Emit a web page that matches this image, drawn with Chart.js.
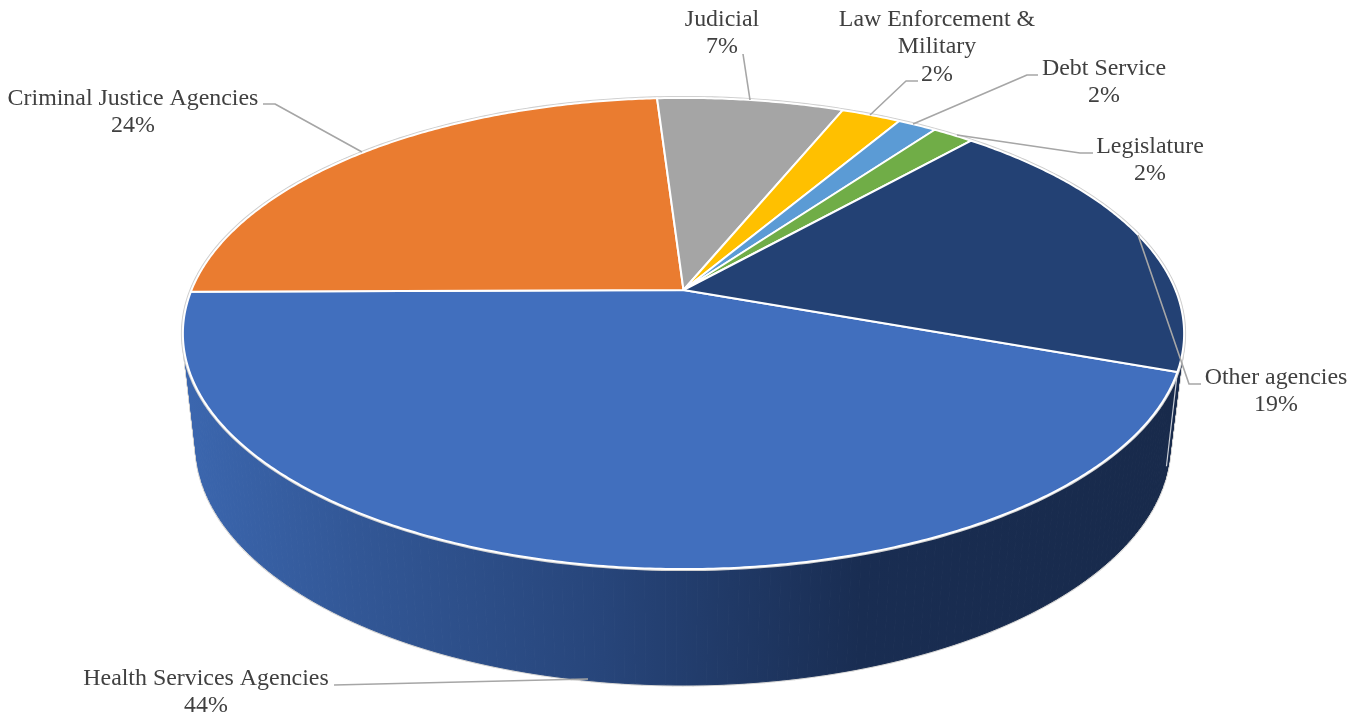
<!DOCTYPE html>
<html>
<head>
<meta charset="utf-8">
<style>html,body{margin:0;padding:0;background:#fff}canvas{display:block}</style>
<script src="https://cdn.jsdelivr.net/npm/chart.js@4"></script>
</head>
<body>
<canvas id="c" width="1364" height="717"></canvas>
<script>
const categories = ['Health Services Agencies','Criminal Justice Agencies','Judicial','Law Enforcement &\nMilitary','Debt Service','Legislature','Other agencies'];
const values = [44.4,24.1,7.2,2.3,1.5,1.6,18.9];
const sliceColors = ['#416FBE','#EA7C30','#A5A5A5','#FFC000','#5B9BD5','#70AD47','#234174'];
const startRotation = 109.75;

// layout of the labels and their leader lines (pixels)
const labelCenters = [[206,678.5],[133,98.5],[722,19.5],[937,19.5],[1104,68.5],[1150,146.5],[1276,377.5]];
const leaderLines = [
  [[334,685],[588,679]],
  [[263,104],[275,104],[362,152]],
  [[743,54],[750,100]],
  [[918,81],[906,81],[870,115]],
  [[1038,75],[1027,75],[913,124]],
  [[1093,153],[1080,153],[957,135]],
  [[1201,384],[1189,384],[1138,235]]
];
const LINE_H = 27.7;
const K = -0.1847;
const TOP = {cx:683.5, cy:290, a:492, b:174};
const BOT = {cx:683, cy:400.7, a:478.6, b:157.8};
function project(p, ang){
  const x=Math.cos(ang), y=Math.sin(ang), d=1+K*y;
  return [p.cx+p.a*x/d, (p.cy+p.b*y)/d];
}

class Arc3D extends Chart.ArcElement {
  draw(ctx){
    const o=this.options, s=this.startAngle, e=this.endAngle;
    const n=Math.max(2,Math.ceil((e-s)/(Math.PI/360)));
    ctx.save();
    ctx.beginPath();
    ctx.moveTo(TOP.cx,TOP.cy);
    for(let i=0;i<=n;i++){const q=project(TOP,s+(e-s)*i/n);ctx.lineTo(q[0],q[1]);}
    ctx.closePath();
    ctx.fillStyle=o.backgroundColor;ctx.fill();
    ctx.lineJoin='round';
    ctx.strokeStyle=o.borderColor;ctx.lineWidth=o.borderWidth;ctx.stroke();
    ctx.restore();
  }
}
Arc3D.id='arc3d';
Arc3D.defaults={...Chart.ArcElement.defaults};
class Pie3D extends Chart.PieController {}
Pie3D.id='pie3d';
Pie3D.defaults={...Chart.PieController.defaults,dataElementType:'arc3d'};
Pie3D.overrides=Chart.PieController.overrides;
Chart.register(Arc3D,Pie3D);

function quad(ctx,a,b){
  const p1=project(TOP,a),p2=project(TOP,b),p3=project(BOT,b),p4=project(BOT,a);
  ctx.beginPath();ctx.moveTo(p1[0],p1[1]);ctx.lineTo(p2[0],p2[1]);ctx.lineTo(p3[0],p3[1]);ctx.lineTo(p4[0],p4[1]);ctx.closePath();
}
const wallPlugin={
  id:'wall',
  beforeDatasetsDraw(chart){
    const ctx=chart.ctx, arcs=chart.getDatasetMeta(0).data;
    const step=Math.PI/180;
    ctx.save();
    ctx.lineJoin='round';
    // pale outline round the whole solid
    ctx.strokeStyle='#d4d4d4';ctx.fillStyle='#d4d4d4';ctx.lineWidth=3;
    for(let t=0;t<Math.PI*2;t+=step){quad(ctx,t,t+step);ctx.stroke();}
    // side wall
    const g=ctx.createLinearGradient(190,0,1175,0);
    g.addColorStop(0,'#3B66AE');
    g.addColorStop(0.17,'#325796');
    g.addColorStop(0.42,'#27457A');
    g.addColorStop(0.68,'#192D52');
    g.addColorStop(1,'#182A4B');
    ctx.fillStyle=g;ctx.strokeStyle=g;ctx.lineWidth=1;
    for(let i=arcs.length-1;i>=0;i--){
      const s=arcs[i].startAngle,e=arcs[i].endAngle,n=Math.max(1,Math.ceil((e-s)/step));
      for(let j=0;j<n;j++){quad(ctx,s+(e-s)*j/n,s+(e-s)*(j+1)/n);ctx.fill();ctx.stroke();}
    }
    // edge between the two visible wall faces
    const a0=arcs[0].startAngle,p=project(TOP,a0),q=project(BOT,a0);
    ctx.strokeStyle='#c9ced6';ctx.lineWidth=1.2;
    ctx.beginPath();ctx.moveTo(p[0],p[1]);ctx.lineTo(q[0]+3,q[1]-18);ctx.stroke();
    // pale outline of the top face
    ctx.strokeStyle='#d0d0d0';ctx.lineWidth=4;
    ctx.beginPath();
    for(let t=0;t<=Math.PI*2+step;t+=step){const r=project(TOP,t);t?ctx.lineTo(r[0],r[1]):ctx.moveTo(r[0],r[1]);}
    ctx.closePath();ctx.stroke();
    ctx.restore();
  },
  afterDatasetsDraw(chart){
    const ctx=chart.ctx;
    ctx.save();
    ctx.strokeStyle='#A6A6A6';ctx.lineWidth=1.6;ctx.lineJoin='round';
    leaderLines.forEach(l=>{
      ctx.beginPath();
      l.forEach((q,i)=>i?ctx.lineTo(q[0],q[1]):ctx.moveTo(q[0],q[1]));
      ctx.stroke();
    });
    ctx.fillStyle='#404040';
    ctx.font='23.9px "Liberation Serif"';
    ctx.textAlign='center';ctx.textBaseline='middle';
    categories.forEach((c,i)=>{
      const lines=c.split('\n').concat(Math.round(values[i])+'%');
      lines.forEach((t,j)=>ctx.fillText(t,labelCenters[i][0],labelCenters[i][1]+j*LINE_H));
    });
    ctx.restore();
  }
};

new Chart(document.getElementById('c'),{
  type:'pie3d',
  data:{labels:categories,datasets:[{data:values,backgroundColor:sliceColors,borderColor:'#ffffff',borderWidth:2}]},
  options:{
    responsive:false,animation:false,rotation:startRotation,
    plugins:{legend:{display:false},tooltip:{enabled:false}}
  },
  plugins:[wallPlugin]
});
</script>
</body>
</html>
